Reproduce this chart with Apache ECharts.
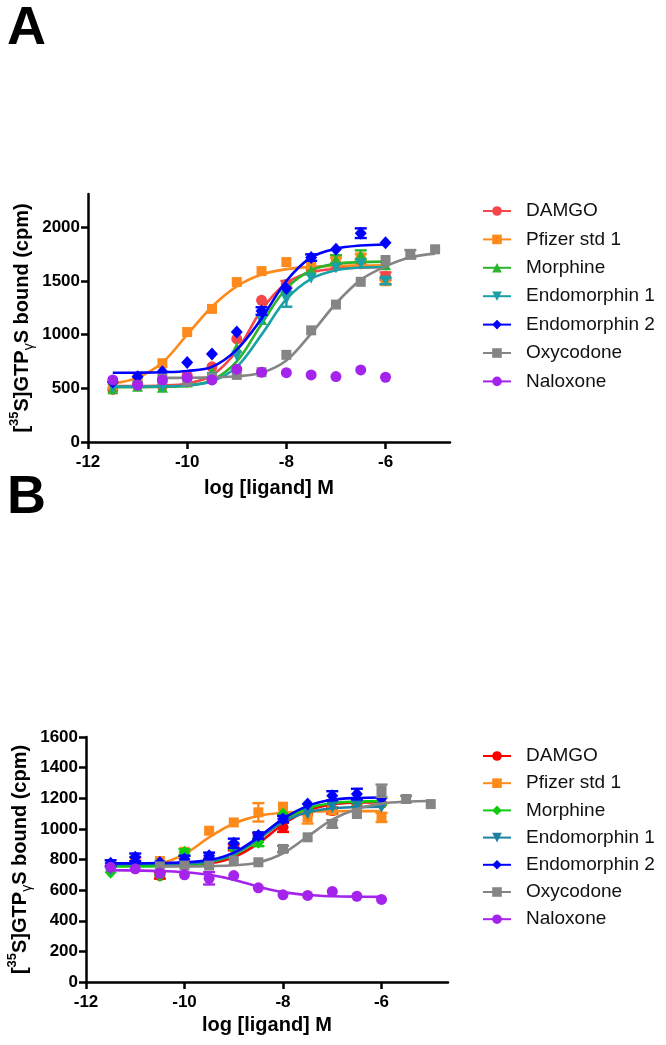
<!DOCTYPE html>
<html><head><meta charset="utf-8">
<script src="https://cdn.jsdelivr.net/npm/echarts@6/dist/echarts.min.js"></script>
<style>html,body{margin:0;padding:0;background:#fff}#c{width:666px;height:1045px}</style>
</head><body><div id="c"></div>
<script>
// ---------- shared ----------
const compounds = ['DAMGO', 'Pfizer std 1', 'Morphine', 'Endomorphin 1', 'Endomorphin 2', 'Oxycodone', 'Naloxone'];
const xConc = [-11.5, -11, -10.5, -10, -9.5, -9, -8.5, -8, -7.5, -7, -6.5, -6];
const xOxy = [-10.5, -10, -9.5, -9, -8.5, -8, -7.5, -7, -6.5, -6, -5.5, -5];
const xTicks = [-12, -10, -8, -6];
const yTicksA = [0, 500, 1000, 1500, 2000];
const yTicksB = [0, 200, 400, 600, 800, 1000, 1200, 1400, 1600];

// ---------- Panel A ----------
const A_DAMGO_pts = [490, 540, 520, 620, 700, 960, 1320, 1470, 1610, 1640, 1660, 1545];
const A_DAMGO_fit = [520, 521, 525, 545, 620, 850, 1230, 1480, 1580, 1615, 1625, 1630];
const A_DAMGO_err = [0, 0, 0, 0, 0, 0, 0, 30, 0, 0, 0, 35];
const A_Pfizer_pts = [530, 600, 734, 1024, 1240, 1490, 1592, 1676, 1650, 1690, 1720, 1498];
const A_Pfizer_fit = [545, 600, 740, 1000, 1260, 1450, 1560, 1610, 1632, 1640, 1643, 1645];
const A_Pfizer_err = [0, 0, 0, 0, 0, 0, 0, 0, 0, 25, 30, 30];
const A_Morphine_pts = [495, 520, 510, 560, 660, 880, 1140, 1430, 1600, 1700, 1745, 1650];
const A_Morphine_fit = [510, 511, 514, 525, 575, 750, 1100, 1430, 1600, 1660, 1675, 1680];
const A_Morphine_err = [0, 0, 0, 0, 0, 0, 0, 0, 0, 40, 40, 0];
const A_Endo1_pts = [505, 520, 515, 550, 600, 800, 1130, 1330, 1525, 1620, 1660, 1500];
const A_Endo1_fit = [515, 516, 518, 527, 565, 700, 1000, 1330, 1520, 1600, 1625, 1630];
const A_Endo1_err = [0, 0, 0, 0, 0, 0, 0, 70, 0, 0, 0, 30];
const A_Endo2_pts = [560, 608, 655, 740, 820, 1025, 1220, 1430, 1718, 1795, 1945, 1857];
const A_Endo2_fit = [645, 646, 650, 662, 700, 860, 1150, 1500, 1720, 1800, 1830, 1840];
const A_Endo2_err = [0, 0, 0, 0, 0, 0, 35, 0, 30, 0, 45, 0];
const A_Oxy_pts = [590, 562, 600, 625, 650, 812, 1040, 1280, 1492, 1695, 1748, 1795];
const A_Oxy_fit = [597, 598, 602, 612, 645, 760, 1010, 1290, 1510, 1635, 1720, 1755];
const A_Oxy_err = [0, 0, 0, 0, 0, 0, 0, 0, 0, 0, 40, 0];
const A_Nal_pts = [578, 531, 578, 600, 578, 678, 650, 646, 625, 609, 671, 603];
const A_Nal_fit = []; // no fitted curve drawn for Naloxone in panel A
const A_Nal_err = [0, 0, 0, 0, 0, 0, 0, 0, 0, 0, 0, 0];

// ---------- Panel B ----------
const B_DAMGO_pts = [760, 790, 695, 780, 800, 880, 950, 1010, 1100, 1120, 1160, 1165];
const B_DAMGO_fit = [760, 760, 761, 764, 775, 815, 905, 1030, 1120, 1160, 1172, 1175];
const B_DAMGO_err = [0, 25, 20, 0, 0, 20, 20, 30, 0, 20, 0, 0];
const B_Pfizer_pts = [760, 780, 790, 850, 988, 1042, 1108, 1145, 1075, 1120, 1120, 1075];
const B_Pfizer_fit = [765, 766, 775, 835, 945, 1035, 1085, 1105, 1112, 1115, 1116, 1116];
const B_Pfizer_err = [0, 0, 0, 0, 0, 0, 60, 0, 40, 0, 0, 30];
const B_Morphine_pts = [717, 760, 695, 847, 793, 870, 912, 1097, 1130, 1180, 1170, 1160];
const B_Morphine_fit = [755, 755, 757, 763, 782, 830, 930, 1055, 1135, 1168, 1178, 1181];
const B_Morphine_err = [0, 0, 0, 20, 0, 0, 25, 0, 0, 0, 0, 0];
const B_Endo1_pts = [730, 790, 760, 800, 810, 880, 950, 1060, 1097, 1140, 1150, 1140];
const B_Endo1_fit = [770, 770, 771, 774, 787, 835, 935, 1045, 1108, 1134, 1142, 1145];
const B_Endo1_err = [0, 0, 0, 0, 0, 0, 0, 0, 0, 0, 0, 0];
const B_Endo2_pts = [775, 814, 780, 804, 825, 906, 956, 1064, 1162, 1216, 1227, 1200];
const B_Endo2_fit = [775, 775, 777, 782, 796, 845, 945, 1065, 1150, 1190, 1202, 1205];
const B_Endo2_err = [20, 25, 0, 20, 20, 30, 20, 20, 0, 30, 35, 0];
const B_Oxy_pts = [755, 760, 760, 793, 782, 869, 945, 1032, 1097, 1249, 1195, 1162];
const B_Oxy_fit = [755, 755, 757, 762, 780, 840, 950, 1060, 1130, 1165, 1178, 1182];
const B_Oxy_err = [0, 0, 0, 0, 0, 20, 0, 25, 0, 40, 20, 0];
const B_Nal_pts = [749, 739, 710, 700, 677, 695, 615, 569, 565, 591, 560, 539];
const B_Nal_fit = [730, 728, 725, 717, 700, 668, 622, 587, 568, 560, 557, 556];
const B_Nal_err = [0, 0, 0, 0, 40, 0, 0, 0, 0, 0, 0, 0];

const colorsA = ['#f5474a', '#ff8a1c', '#2cb52c', '#1aa0a6', '#0000ff', '#858585', '#a424ec'];
const colorsB = ['#ff0000', '#ff8a1c', '#10cc10', '#1c82a4', '#0000ff', '#858585', '#a424ec'];
const symbolsA = ['circle', 'rect', 'triangle', 'triangle', 'diamond', 'rect', 'circle'];
const symbolsB = ['circle', 'rect', 'diamond', 'triangle', 'diamond', 'rect', 'circle'];
const rotA = [0, 0, 0, 180, 0, 0, 0];
const rotB = [0, 0, 0, 180, 0, 0, 0];

const panelA = [
  [A_DAMGO_pts, A_DAMGO_fit, A_DAMGO_err, xConc],
  [A_Pfizer_pts, A_Pfizer_fit, A_Pfizer_err, xConc],
  [A_Morphine_pts, A_Morphine_fit, A_Morphine_err, xConc],
  [A_Endo1_pts, A_Endo1_fit, A_Endo1_err, xConc],
  [A_Endo2_pts, A_Endo2_fit, A_Endo2_err, xConc],
  [A_Oxy_pts, A_Oxy_fit, A_Oxy_err, xOxy],
  [A_Nal_pts, A_Nal_fit, A_Nal_err, xConc]
];
const panelB = [
  [B_DAMGO_pts, B_DAMGO_fit, B_DAMGO_err, xConc],
  [B_Pfizer_pts, B_Pfizer_fit, B_Pfizer_err, xConc],
  [B_Morphine_pts, B_Morphine_fit, B_Morphine_err, xConc],
  [B_Endo1_pts, B_Endo1_fit, B_Endo1_err, xConc],
  [B_Endo2_pts, B_Endo2_fit, B_Endo2_err, xConc],
  [B_Oxy_pts, B_Oxy_fit, B_Oxy_err, xOxy],
  [B_Nal_pts, B_Nal_fit, B_Nal_err, xConc]
];

const FONT = '"Liberation Sans", Arial, sans-serif';
const series = [];
function buildPanel(panel, gi, colors, symbols, rots, suffix) {
  panel.forEach((p, k) => {
    const [pts, fit, err, xs] = p;
    const name = compounds[k] + suffix;
    const color = colors[k];
    const sym = symbols[k];
    const symSize = sym === 'diamond' ? [12, 13] : (sym === 'rect' ? 10 : 11);
    // fitted curve (legend entry source)
    series.push({
      name, type: 'line', xAxisIndex: gi, yAxisIndex: gi,
      data: fit.map((v, i) => [xs[i], v]),
      smooth: 0.35, showSymbol: false, symbol: sym, symbolSize: symSize, symbolRotate: rots[k],
      lineStyle: { color, width: 2.6 }, itemStyle: { color },
      z: 3 + k * 0.01, silent: true
    });
    // error bars
    series.push({
      name, type: 'custom', xAxisIndex: gi, yAxisIndex: gi,
      data: xs.map((x, i) => [x, pts[i], err[i]]).filter(d => d[2] > 0),
      renderItem: function (params, api) {
        const x = api.value(0), y = api.value(1), e = api.value(2);
        const t = api.coord([x, y + e]), b = api.coord([x, y - e]);
        const w = 6;
        const st = { stroke: color, lineWidth: 2.4 };
        return { type: 'group', children: [
          { type: 'line', shape: { x1: t[0], y1: t[1], x2: b[0], y2: b[1] }, style: st },
          { type: 'line', shape: { x1: t[0] - w, y1: t[1], x2: t[0] + w, y2: t[1] }, style: st },
          { type: 'line', shape: { x1: b[0] - w, y1: b[1], x2: b[0] + w, y2: b[1] }, style: st }
        ]};
      },
      z: 3 + k * 0.01, silent: true
    });
    // data points
    series.push({
      name, type: 'scatter', xAxisIndex: gi, yAxisIndex: gi,
      data: xs.map((x, i) => [x, pts[i]]),
      symbol: sym, symbolSize: symSize, symbolRotate: rots[k],
      itemStyle: { color, opacity: 1 }, z: 3 + k * 0.01, silent: true
    });
  });
}
buildPanel(panelA, 0, colorsA, symbolsA, rotA, '');
buildPanel(panelB, 1, colorsB, symbolsB, rotB, '\u200b');

const axisLine = { show: true, onZero: false, lineStyle: { color: '#000', width: 2.5 } };
const axisTick = (vals) => ({ show: true, length: 7, lineStyle: { color: '#000', width: 2.5 }, customValues: vals });
const axisLabel = (vals, m) => ({ customValues: vals, margin: m, color: '#000', fontFamily: FONT, fontWeight: 'bold', fontSize: 17,
  formatter: (v) => String(v) });

const yName = '{b|[}{sup|35}{b|S]GTP}{sub|\u03b3}{b|S bound (cpm)}';
const yNameStyle = {
  color: '#000', fontFamily: FONT, fontWeight: 'bold', fontSize: 20,
  rich: {
    b: { fontFamily: FONT, fontWeight: 'bold', fontSize: 20, lineHeight: 28, color: '#000' },
    sup: { fontFamily: FONT, fontWeight: 'bold', fontSize: 13, lineHeight: 8, verticalAlign: 'top', color: '#000' },
    sub: { fontFamily: FONT, fontWeight: 'normal', fontSize: 14, lineHeight: 12, verticalAlign: 'bottom', color: '#000' }
  }
};
const xNameStyle = { color: '#000', fontFamily: FONT, fontWeight: 'bold', fontSize: 20 };

const legendCommon = {
  orient: 'vertical', left: 477, itemWidth: 28, itemHeight: 12,
  textStyle: { fontFamily: FONT, fontSize: 19, color: '#111', lineHeight: 20, padding: [0, 0, 0, 10] },
  formatter: (n) => n.replace('\u200b', ''),
  selectedMode: false
};

const option = {
  animation: false,
  backgroundColor: '#fff',
  grid: [
    { left: 88, right: 216, top: 194, bottom: 603, containLabel: false, outerBoundsMode: 'none' },
    { left: 86, right: 218, top: 737, bottom: 63, containLabel: false, outerBoundsMode: 'none' }
  ],
  xAxis: [
    { gridIndex: 0, type: 'value', min: -12, max: -4.7, interval: 2, axisLine, axisTick: axisTick(xTicks),
      axisLabel: axisLabel(xTicks, 12), splitLine: { show: false },
      name: 'log [ligand] M', nameLocation: 'middle', nameGap: 36, nameMoveOverlap: false, nameTextStyle: xNameStyle },
    { gridIndex: 1, type: 'value', min: -12, max: -4.65, interval: 2, axisLine, axisTick: axisTick(xTicks),
      axisLabel: axisLabel(xTicks, 12), splitLine: { show: false },
      name: 'log [ligand] M', nameLocation: 'middle', nameGap: 33, nameMoveOverlap: false, nameTextStyle: xNameStyle }
  ],
  yAxis: [
    { gridIndex: 0, type: 'value', min: 0, max: 2310, interval: 500, axisLine, axisTick: axisTick(yTicksA),
      axisLabel: axisLabel(yTicksA, 8), splitLine: { show: false },
      name: yName, nameLocation: 'middle', nameGap: 52, nameMoveOverlap: false, nameTextStyle: yNameStyle },
    { gridIndex: 1, type: 'value', min: 0, max: 1600, interval: 200, axisLine, axisTick: axisTick(yTicksB),
      axisLabel: axisLabel(yTicksB, 8), splitLine: { show: false },
      name: yName, nameLocation: 'middle', nameGap: 52, nameMoveOverlap: false, nameTextStyle: yNameStyle }
  ],
  legend: [
    Object.assign({}, legendCommon, { top: 196, itemGap: 8.4, data: compounds.slice() }),
    Object.assign({}, legendCommon, { top: 741, itemGap: 7.2, data: compounds.map(c => c + '\u200b') })
  ],
  graphic: [
    { type: 'text', left: 7, top: 2, style: { text: 'A', font: 'bold 54px "Liberation Sans", Arial', fill: '#000' } },
    { type: 'text', left: 7, top: 471, style: { text: 'B', font: 'bold 54px "Liberation Sans", Arial', fill: '#000' } }
  ],
  series
};
const chart = echarts.init(document.getElementById('c'), null, { renderer: 'canvas' });
chart.setOption(option);
</script></body></html>
